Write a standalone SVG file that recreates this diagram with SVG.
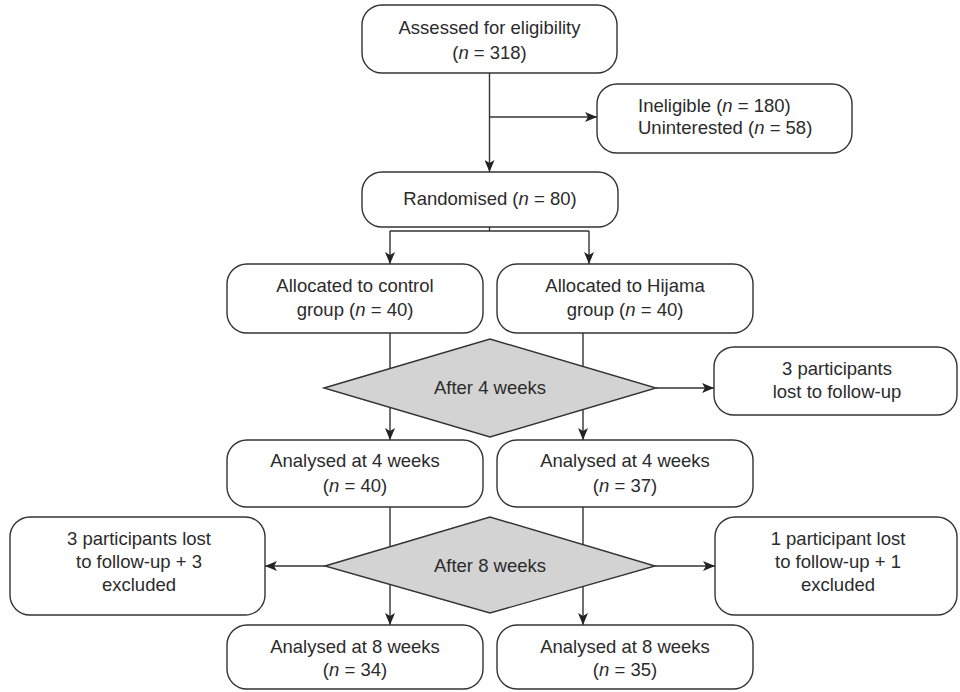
<svg xmlns="http://www.w3.org/2000/svg" width="960" height="692" viewBox="0 0 960 692">
<style>
.box{fill:#fff;stroke:#333;stroke-width:1.4}
.dia{fill:#d3d3d3;stroke:#333;stroke-width:1.4}
.ln{fill:none;stroke:#333;stroke-width:1.4}
text{font-family:"Liberation Sans",Arial,sans-serif;font-size:18.5px;fill:#2b2b2b}
.c{text-anchor:middle}
.i{font-style:italic}
</style>
<defs>
<marker id="ah" viewBox="0 0 12 10" refX="12" refY="5" markerWidth="12" markerHeight="10" markerUnits="userSpaceOnUse" orient="auto">
<path d="M0,0 L12,5 L0,10 L3,5 Z" fill="#222"/>
</marker>
</defs>
<rect width="960" height="692" fill="#fff"/>
<g id="connectors">
<path class="ln" d="M489.5,73 V172" marker-end="url(#ah)"/>
<path class="ln" d="M489.5,117 H597" marker-end="url(#ah)"/>
<path class="ln" d="M489.5,227 V231 M390,231 H589"/>
<path class="ln" d="M390,231 V264" marker-end="url(#ah)"/>
<path class="ln" d="M589,231 V264" marker-end="url(#ah)"/>
<path class="ln" d="M390,333 V440" marker-end="url(#ah)"/>
<path class="ln" d="M583,333 V440" marker-end="url(#ah)"/>
<path class="ln" d="M390,507 V625" marker-end="url(#ah)"/>
<path class="ln" d="M583,507 V625" marker-end="url(#ah)"/>
<path class="ln" d="M656,388 H714" marker-end="url(#ah)"/>
<path class="ln" d="M325,566 H265" marker-end="url(#ah)"/>
<path class="ln" d="M655,566 H715" marker-end="url(#ah)"/>
</g>
<g id="assessed">
<rect class="box" x="362" y="5" width="255" height="68" rx="20"/>
<text class="c" x="489.5" y="34">Assessed for eligibility</text>
<text class="c" x="489.5" y="59">(<tspan class="i">n</tspan> = 318)</text>
</g>
<g id="excluded1">
<rect class="box" x="597" y="84" width="255" height="69" rx="20"/>
<text x="638" y="112">Ineligible (<tspan class="i">n</tspan> = 180)</text>
<text x="638" y="134">Uninterested (<tspan class="i">n</tspan> = 58)</text>
</g>
<g id="randomised">
<rect class="box" x="362" y="172" width="256" height="55" rx="20"/>
<text class="c" x="490" y="205">Randomised (<tspan class="i">n</tspan> = 80)</text>
</g>
<g id="alloc-control">
<rect class="box" x="227" y="264" width="256" height="69" rx="20"/>
<text class="c" x="355" y="292">Allocated to control</text>
<text class="c" x="355" y="316">group (<tspan class="i">n</tspan> = 40)</text>
</g>
<g id="alloc-hijama">
<rect class="box" x="497" y="264" width="256" height="69" rx="20"/>
<text class="c" x="625" y="292">Allocated to Hijama</text>
<text class="c" x="625" y="316">group (<tspan class="i">n</tspan> = 40)</text>
</g>
<g id="after4">
<polygon class="dia" points="324,388 490,339 656,388 490,437"/>
<text class="c" x="490" y="394">After 4 weeks</text>
</g>
<g id="lost4">
<rect class="box" x="714" y="347" width="243" height="68" rx="20"/>
<text class="c" x="837" y="375">3 participants</text>
<text class="c" x="837" y="398">lost to follow-up</text>
</g>
<g id="analysed4-control">
<rect class="box" x="227" y="440" width="256" height="67" rx="20"/>
<text class="c" x="355" y="467">Analysed at 4 weeks</text>
<text class="c" x="355" y="492">(<tspan class="i">n</tspan> = 40)</text>
</g>
<g id="analysed4-hijama">
<rect class="box" x="497" y="440" width="256" height="67" rx="20"/>
<text class="c" x="625" y="467">Analysed at 4 weeks</text>
<text class="c" x="625" y="492">(<tspan class="i">n</tspan> = 37)</text>
</g>
<g id="after8">
<polygon class="dia" points="325,566 490,517 655,566 490,613"/>
<text class="c" x="490" y="572">After 8 weeks</text>
</g>
<g id="lost8-control">
<rect class="box" x="10" y="517" width="255" height="98" rx="20"/>
<text class="c" x="139" y="545">3 participants lost</text>
<text class="c" x="139" y="568">to follow-up + 3</text>
<text class="c" x="139" y="591">excluded</text>
</g>
<g id="lost8-hijama">
<rect class="box" x="715" y="517" width="242" height="98" rx="20"/>
<text class="c" x="838" y="545">1 participant lost</text>
<text class="c" x="838" y="568">to follow-up + 1</text>
<text class="c" x="838" y="591">excluded</text>
</g>
<g id="analysed8-control">
<rect class="box" x="227" y="625" width="256" height="64" rx="20"/>
<text class="c" x="355" y="653">Analysed at 8 weeks</text>
<text class="c" x="355" y="676">(<tspan class="i">n</tspan> = 34)</text>
</g>
<g id="analysed8-hijama">
<rect class="box" x="497" y="625" width="256" height="64" rx="20"/>
<text class="c" x="625" y="653">Analysed at 8 weeks</text>
<text class="c" x="625" y="676">(<tspan class="i">n</tspan> = 35)</text>
</g>
</svg>
